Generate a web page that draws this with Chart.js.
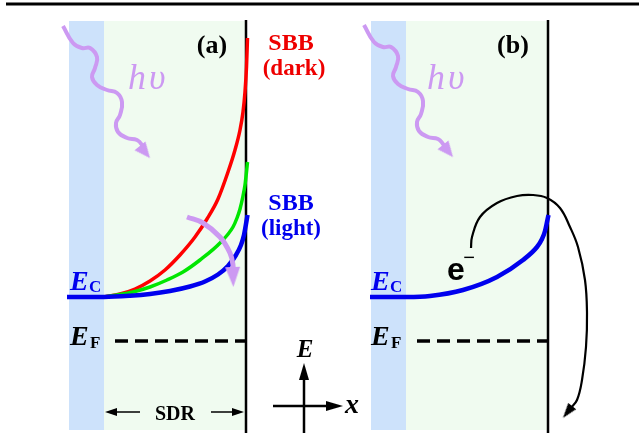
<!DOCTYPE html>
<html>
<head>
<meta charset="utf-8">
<script src="https://cdn.jsdelivr.net/npm/chart.js@4/dist/chart.umd.min.js"></script>
<style>
  body { margin: 0; background: #fff; }
  #wrap { width: 639px; height: 436px; }
</style>
</head>
<body>
<div id="wrap"><canvas id="chart" width="639" height="436"></canvas></div>
<script>
// x = position across the figure, E = energy relative to Ec (flat band = 0)
// (a) band bending, dark / intermediate / light
const darkX = [104, 120, 135, 150, 165, 180, 195, 207, 218, 228, 235, 240, 243, 245, 246.5, 247.5]
const darkE = [0, 0.03, 0.08, 0.16, 0.27, 0.42, 0.60, 0.78, 0.98, 1.25, 1.47, 1.67, 1.85, 2.05, 2.3, 2.59]
const midX = [104, 117, 133, 150, 167, 183, 200, 220, 233, 237, 240, 243, 245, 246.5, 247.5]
const midE = [0, 0.02, 0.05, 0.10, 0.17, 0.25, 0.37, 0.54, 0.70, 0.79, 0.88, 1.01, 1.12, 1.25, 1.35]
const lightX = [67, 104, 130, 150, 170, 190, 205, 218, 228, 236, 241, 244, 246, 247.5]
const lightE = [0, 0, 0.012, 0.03, 0.06, 0.105, 0.155, 0.225, 0.31, 0.42, 0.52, 0.62, 0.73, 0.82]
// (b) band under light
const lightBX = [370, 407, 430, 463, 497, 523, 537, 542, 545, 547, 548.5]
const lightBE = [0, 0, 0.01, 0.07, 0.20, 0.37, 0.50, 0.58, 0.66, 0.75, 0.82]
// Fermi level
const fermiE = -0.44
const fermiA = [115, 246]
const fermiB = [417, 548]
// slab: substrate strip + space-charge region, surface line
const slabTop = 2.76
const slabBottom = -1.33
const stripA = [69, 104]
const sdrA = [104, 246]
const stripB = [371, 406]
const sdrB = [406, 548]
const surfA = 246
const surfB = 548
const surfTop = 2.77
const surfBottom = -1.36
const ruleE = 2.93
const ruleX = [6, 639]
// photon paths
const photonAX = [63, 73, 82, 90, 97, 95, 92, 97, 107, 117, 122, 120, 116, 118, 127, 137, 142, 145]
const photonAE = [2.71, 2.54, 2.49, 2.49, 2.40, 2.29, 2.20, 2.12, 2.07, 2.04, 1.95, 1.82, 1.74, 1.65, 1.59, 1.57, 1.52, 1.45]
const photonBX = [364, 374, 383, 391, 398, 396, 393, 398, 408, 418, 423, 421, 417, 419, 428, 438, 443, 448]
const photonBE = [2.72, 2.55, 2.50, 2.50, 2.41, 2.30, 2.21, 2.13, 2.08, 2.05, 1.96, 1.83, 1.75, 1.66, 1.60, 1.58, 1.53, 1.46]
// band flattening arrow (a)
const flatX = [187, 203, 220, 230, 233, 233]
const flatE = [0.80, 0.74, 0.60, 0.44, 0.32, 0.22]
// electron path (b)
const elecX = [471, 472, 480, 497, 517, 533, 547, 560, 570, 578, 585, 587, 586, 582, 577, 570]
const elecE = [0.49, 0.60, 0.80, 0.94, 1.01, 1.02, 0.99, 0.89, 0.70, 0.50, 0.17, -0.16, -0.50, -0.83, -1.03, -1.12]
// SDR width marker and E/x axes
const sdrMarkE = -1.15
const sdrLeft = [140, 111]
const sdrRight = [211, 238]
const axisEX = 304
const axisEE = [-1.36, -0.75]
const axisXE = -1.09
const axisXX = [273, 335]

const PURPLE = '#cc99f2'
const pts = (xs, es) => xs.map((x, i) => ({ x: x, y: es[i] }))

function head(len, w, color) {
    const c = document.createElement('canvas')
    c.width = w
    c.height = len
    const g = c.getContext('2d')
    g.fillStyle = color
    g.beginPath()
    g.moveTo(w / 2, 0)
    g.lineTo(w, len)
    g.lineTo(0, len)
    g.closePath()
    g.fill()
    return c
}

const datasets = []
function line(data, color, width, extra) {
    datasets.push(Object.assign({
        data: data, borderColor: color, borderWidth: width, showLine: true,
        pointRadius: 0, tension: 0, fill: false, clip: false
    }, extra || {}))
}
function band(xs, color) {
    line(pts(xs, [slabTop, slabTop]), 'rgba(0,0,0,0)', 0,
        { backgroundColor: color, fill: { value: slabBottom } })
}
function arrowHead(x, e, rot, img) {
    datasets.push({
        data: [{ x: x, y: e }], pointStyle: img, pointRadius: 5,
        pointRotation: rot, showLine: false, clip: false
    })
}

band(stripA, '#cde2fb')
band(sdrA, '#f0fbf0')
band(stripB, '#cde2fb')
band(sdrB, '#f0fbf0')
line(pts(ruleX, [ruleE, ruleE]), '#000', 3)

line(pts(photonAX, photonAE), PURPLE, 4, { tension: 0.45 })
line(pts(photonBX, photonBE), PURPLE, 4, { tension: 0.45 })
arrowHead(145, 1.45, 141, head(16, 14, PURPLE))
arrowHead(448, 1.46, 141, head(16, 14, PURPLE))

line(pts(fermiA, [fermiE, fermiE]), '#000', 3.5, { borderDash: [13, 7] })
line(pts(fermiB, [fermiE, fermiE]), '#000', 3.5, { borderDash: [13, 7] })

line(pts([surfA, surfA], [surfTop, surfBottom]), '#000', 2.5)
line(pts([surfB, surfB], [surfTop, surfBottom]), '#000', 2.5)

line(pts(darkX, darkE), '#ff0000', 3.5, { cubicInterpolationMode: 'monotone' })
line(pts(midX, midE), '#00e600', 3.5, { cubicInterpolationMode: 'monotone' })
line(pts(lightX, lightE), '#0000ee', 4.5, { cubicInterpolationMode: 'monotone' })
line(pts(lightBX, lightBE), '#0000ee', 4.5, { cubicInterpolationMode: 'monotone' })

line(pts(flatX, flatE), PURPLE, 5, { tension: 0.4 })
arrowHead(233, 0.20, 178, head(20, 15, PURPLE))

line(pts(elecX, elecE), '#000', 2.2, { tension: 0.4 })
arrowHead(567.6, -1.15, 218, head(15, 10, '#000'))

line(pts(sdrLeft, [sdrMarkE, sdrMarkE]), '#000', 1.5)
line(pts(sdrRight, [sdrMarkE, sdrMarkE]), '#000', 1.5)
arrowHead(111, sdrMarkE, 270, head(12, 8, '#000'))
arrowHead(238, sdrMarkE, 90, head(12, 8, '#000'))

line(pts([axisEX, axisEX], axisEE), '#000', 2.5)
line(pts(axisXX, [axisXE, axisXE]), '#000', 2.5)
arrowHead(axisEX, -0.745, 0, head(17, 10, '#000'))
arrowHead(334.5, axisXE, 90, head(17, 10, '#000'))

// later datasets on top
datasets.forEach((d, i) => { d.order = -i })

const SERIF = '"Liberation Serif", "Times New Roman", serif'
const labels = [
    { t: '(a)', x: 212, e: 2.44, font: 'bold 26px ' + SERIF, color: '#000', align: 'center' },
    { t: '(b)', x: 513, e: 2.44, font: 'bold 26px ' + SERIF, color: '#000', align: 'center' },
    { t: 'hυ', x: 128, e: 2.08, font: 'italic 36px ' + SERIF, color: PURPLE, align: 'left', sp: 3 },
    { t: 'hυ', x: 427, e: 2.08, font: 'italic 36px ' + SERIF, color: PURPLE, align: 'left', sp: 3 },
    { t: 'SBB', x: 291, e: 2.47, font: 'bold 24px ' + SERIF, color: '#ee0000', align: 'center' },
    { t: '(dark)', x: 294, e: 2.22, font: 'bold 23px ' + SERIF, color: '#ee0000', align: 'center' },
    { t: 'SBB', x: 291, e: 0.87, font: 'bold 24px ' + SERIF, color: '#0000ee', align: 'center' },
    { t: '(light)', x: 291, e: 0.62, font: 'bold 23px ' + SERIF, color: '#0000ee', align: 'center' },
    { t: 'E', x: 70, e: 0.07, font: 'bold italic 28px ' + SERIF, color: '#0000ee', align: 'left' },
    { t: 'C', x: 89, e: 0.05, font: 'bold 17px ' + SERIF, color: '#0000ee', align: 'left' },
    { t: 'E', x: 70, e: -0.48, font: 'bold italic 28px ' + SERIF, color: '#000', align: 'left' },
    { t: 'F', x: 90, e: -0.51, font: 'bold 17px ' + SERIF, color: '#000', align: 'left' },
    { t: 'E', x: 371, e: 0.07, font: 'bold italic 28px ' + SERIF, color: '#0000ee', align: 'left' },
    { t: 'C', x: 390, e: 0.05, font: 'bold 17px ' + SERIF, color: '#0000ee', align: 'left' },
    { t: 'E', x: 371, e: -0.48, font: 'bold italic 28px ' + SERIF, color: '#000', align: 'left' },
    { t: 'F', x: 391, e: -0.51, font: 'bold 17px ' + SERIF, color: '#000', align: 'left' },
    { t: 'SDR', x: 175, e: -1.23, font: 'bold 20px ' + SERIF, color: '#000', align: 'center' },
    { t: 'E', x: 305, e: -0.60, font: 'bold italic 25px ' + SERIF, color: '#000', align: 'center' },
    { t: 'x', x: 345, e: -1.16, font: 'bold italic 28px ' + SERIF, color: '#000', align: 'left' },
    { t: 'e', x: 447, e: 0.17, font: 'bold 32px "Liberation Sans", Arial, sans-serif', color: '#000', align: 'left' },
    { t: '−', x: 469, e: 0.33, font: '20px "Liberation Sans", Arial, sans-serif', color: '#000', align: 'center' }
]

const textPlugin = {
    id: 'diagramText',
    afterDatasetsDraw(chart) {
        const ctx = chart.ctx
        const sx = chart.scales.x
        const sy = chart.scales.y
        ctx.save()
        ctx.textBaseline = 'alphabetic'
        labels.forEach(l => {
            ctx.font = l.font
            ctx.fillStyle = l.color
            ctx.textAlign = l.align
            ctx.letterSpacing = (l.sp || 0) + 'px'
            ctx.fillText(l.t, sx.getPixelForValue(l.x), sy.getPixelForValue(l.e))
        })
        ctx.restore()
    }
}

new Chart(document.getElementById('chart').getContext('2d'), {
    type: 'scatter',
    data: { datasets: datasets },
    options: {
        responsive: false,
        animation: false,
        devicePixelRatio: 1,
        layout: { padding: 0, autoPadding: false },
        plugins: { legend: { display: false }, tooltip: { enabled: false } },
        scales: {
            x: { type: 'linear', min: 0, max: 639, display: false },
            y: { type: 'linear', min: -1.39, max: 2.97, display: false }
        }
    },
    plugins: [textPlugin]
})
</script>
</body>
</html>
